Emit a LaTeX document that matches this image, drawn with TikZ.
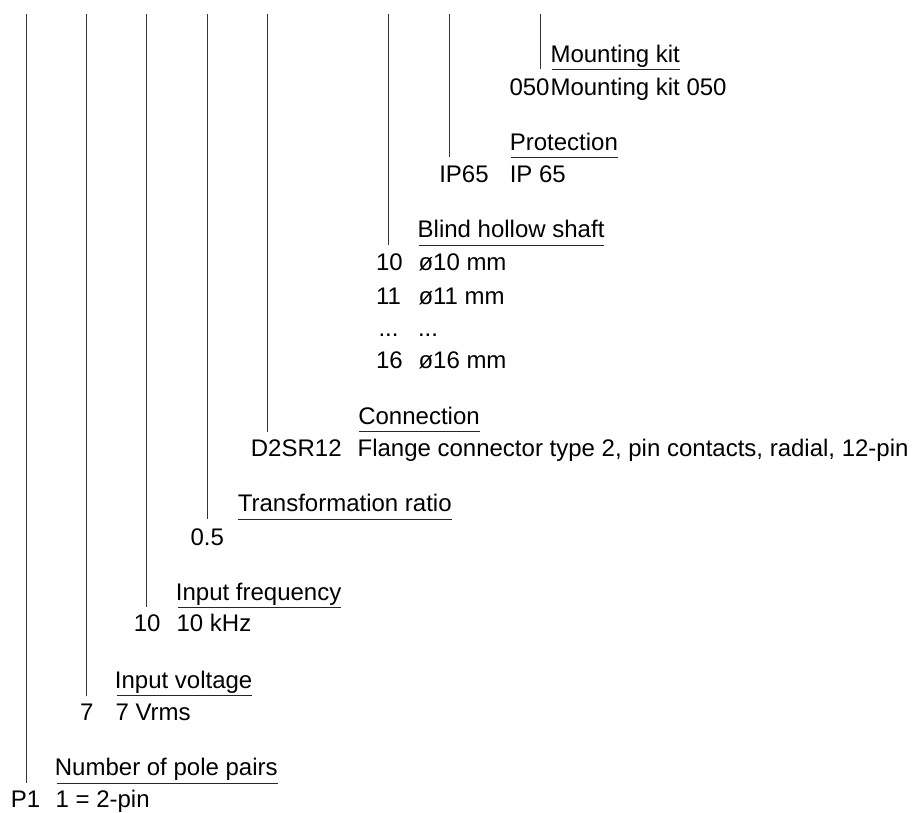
\documentclass[tikz,border=0pt]{standalone}
\usepackage{fontspec}
\setmainfont{Liberation Sans}
\usetikzlibrary{calc}
\begin{document}
\begin{tikzpicture}[x=1pt,y=-1pt,
  txt/.style={anchor=base west, inner sep=0pt, outer sep=0pt, font=\fontsize{24}{28}\selectfont},
  head/.style={txt},
  codetxt/.style={txt},
  stem/.style={line width=1pt, black!80},
  uline/.style={line width=1pt, black!85}]
\useasboundingbox (0,0) rectangle (912,812);

% Mounting kit
\node[head] (hmk) at (550.5,62.7) {Mounting kit};
\node[codetxt] (cmk) at (509.5,95.7) {050};
\node[txt] (dmk) at (550.5,95.7) {Mounting kit 050};
% Protection
\node[head] (hpr) at (509.8,150.7) {Protection};
\node[codetxt] (cpr) at (439.3,182.7) {IP65};
\node[txt] (dpr) at (509.8,182.7) {IP 65};
% Blind hollow shaft
\node[head] (hbs) at (417.7,237.7) {Blind hollow shaft};
\node[codetxt] (cbs1) at (376,270.4) {10};
\node[txt] (dbs1) at (418.5,270.4) {ø10 mm};
\node[codetxt] (cbs2) at (376,304) {11};
\node[txt] (dbs2) at (418.5,304) {ø11 mm};
\node[codetxt] (cbs3) at (378.5,336) {...};
\node[txt] (dbs3) at (418,336) {...};
\node[codetxt] (cbs4) at (376,368.3) {16};
\node[txt] (dbs4) at (418.5,368.3) {ø16 mm};
% Connection
\node[head] (hco) at (358.3,424) {Connection};
\node[codetxt] (cco) at (250.9,456.7) {D2SR12};
\node[txt] (dco) at (357.6,456.7) {Flange connector type 2, pin contacts, radial, 12-pin};
% Transformation ratio
\node[head] (htr) at (237.8,511.7) {Transformation ratio};
\node[codetxt] (ctr) at (190.5,545) {0.5};
% Input frequency
\node[head] (hif) at (175.9,600.7) {Input frequency};
\node[codetxt] (cif) at (133.8,631.7) {10};
\node[txt] (dif) at (176.6,631.7) {10 kHz};
% Input voltage
\node[head] (hiv) at (114.9,688.3) {Input voltage};
\node[codetxt] (civ) at (80,720) {7};
\node[txt] (div) at (115.6,720) {7 Vrms};
% Number of pole pairs
\node[head] (hnp) at (54.9,775.5) {Number of pole pairs};
\node[codetxt] (cnp) at (10.8,807) {P1};
\node[txt] (dnp) at (55.6,807) {1 = 2-pin};

% underlines
\draw[uline] ($(hmk.base west)+(1.2,6.6)$) -- ($(hmk.base east)+(0,6.6)$);
\draw[uline] ($(hpr.base west)+(1.2,6.3)$) -- ($(hpr.base east)+(0,6.3)$);
\draw[uline] ($(hbs.base west)+(1.6,7.6)$) -- ($(hbs.base east)+(0,7.6)$);
\draw[uline] ($(hco.base west)+(1,7.7)$) -- ($(hco.base east)+(0,7.7)$);
\draw[uline] ($(htr.base west)+(0.5,7.3)$) -- ($(htr.base east)+(0,7.3)$);
\draw[uline] ($(hif.base west)+(1.8,6.6)$) -- ($(hif.base east)+(0,6.6)$);
\draw[uline] ($(hiv.base west)+(1.8,7.4)$) -- ($(hiv.base east)+(0,7.4)$);
\draw[uline] ($(hnp.base west)+(1.8,7.5)$) -- ($(hnp.base east)+(0,7.5)$);

% stems
\coordinate (t1) at (26,14);    \coordinate (b1) at (26,783);
\coordinate (t2) at (86.7,14);  \coordinate (b2) at (86.7,695.7);
\coordinate (t3) at (146.7,14); \coordinate (b3) at (146.7,607.3);
\coordinate (t4) at (207.3,14); \coordinate (b4) at (207.3,519);
\coordinate (t5) at (267.5,14); \coordinate (b5) at (267.5,431.7);
\coordinate (t6) at (388.8,14); \coordinate (b6) at (388.8,245);
\coordinate (t7) at (449.3,14); \coordinate (b7) at (449.3,157);
\coordinate (t8) at (540,14);   \coordinate (b8) at (540,69);
\foreach \i in {1,...,8} {\draw[stem] (t\i) -- (b\i);}
\end{tikzpicture}
\end{document}
